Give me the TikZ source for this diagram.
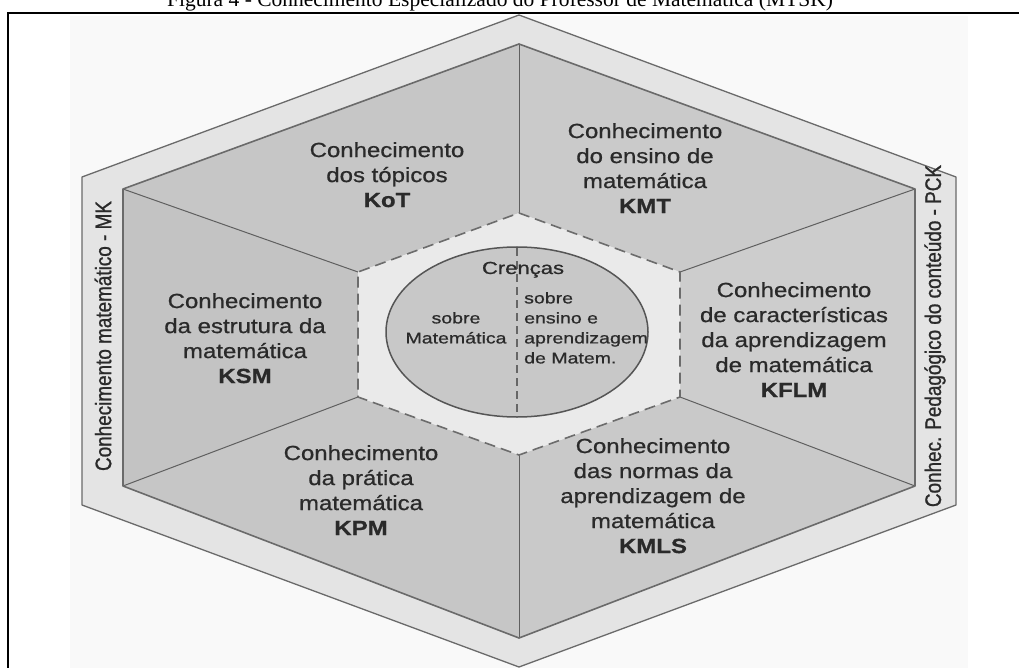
\documentclass[tikz,border=0pt]{standalone}
\usepackage{fontspec}
\setmainfont{Liberation Sans}
\newfontfamily\panelfont{Liberation Sans}[FakeStretch=1.17,FakeBold=0.7]
\newfontfamily\sidefont{Liberation Sans}[FakeStretch=0.84,FakeBold=1.0]
\newfontfamily\ellfont{Liberation Sans}[FakeStretch=1.26,FakeBold=0.8]
\newfontfamily\capfont{Liberation Serif}
\definecolor{bandgray}{HTML}{E4E4E4}
\definecolor{edgegray}{HTML}{6A6A6A}
\definecolor{txtgray}{HTML}{2A2A2A}
\definecolor{pA}{HTML}{C6C6C6}
\definecolor{pB}{HTML}{CACACA}
\definecolor{pC}{HTML}{C3C3C3}
\definecolor{pD}{HTML}{CDCDCD}
\definecolor{pE}{HTML}{C6C6C6}
\definecolor{pF}{HTML}{C9C9C9}
\definecolor{corefill}{HTML}{EAEAEA}
\definecolor{ellfill}{HTML}{C8C8C8}
\definecolor{bgpaper}{HTML}{F9F9F9}
\begin{document}
\begin{tikzpicture}[x=1pt,y=-1pt,
  paneltext/.style={align=center,anchor=north,inner sep=0pt,text=txtgray,
    font=\panelfont\fontsize{20.5}{25}\selectfont},
  sidetext/.style={rotate=90,inner sep=0pt,text=txtgray,
    font=\sidefont\fontsize{22.5}{24}\selectfont},
  elltext/.style={inner sep=0pt,text=txtgray,
    font=\ellfont\fontsize{15.5}{20}\selectfont},
  divider/.style={draw=edgegray!90!black,line width=1pt}]
\useasboundingbox (0,0) rectangle (1019,668);
% paper background of the image
\fill[bgpaper] (70,16) rectangle (968,668);
% caption (cut at the top of the page)
\node[anchor=base,inner sep=0pt,font=\capfont\fontsize{21.5}{24}\selectfont] (cap) at (500,7)
  {Figura 4 - Conhecimento Especializado do Professor de Matemática (MTSK)};
% frame
\draw[black,line width=2pt] (8,690) -- (8,13) -- (1030,13);
% outer hexagon
\coordinate (oT) at (519,15);
\coordinate (oUL) at (82,177);
\coordinate (oLL) at (82,505);
\coordinate (oB) at (519,667);
\coordinate (oLR) at (956,505);
\coordinate (oUR) at (956,177);
% inner hexagon
\coordinate (iT) at (519,44);
\coordinate (iUL) at (123,189);
\coordinate (iLL) at (123,486);
\coordinate (iB) at (519,638);
\coordinate (iLR) at (915,486);
\coordinate (iUR) at (915,189);
% core hexagon
\coordinate (cT) at (519,213);
\coordinate (cUL) at (358,272);
\coordinate (cLL) at (358,397);
\coordinate (cB) at (519,455);
\coordinate (cLR) at (680,397);
\coordinate (cUR) at (680,272);
\fill[bandgray,draw=edgegray,line width=1.3pt,line join=round]
  (oT) -- (oUR) -- (oLR) -- (oB) -- (oLL) -- (oUL) -- cycle;
% panels
\fill[pA] (iT) -- (iUL) -- (cUL) -- (cT) -- cycle;
\fill[pB] (iT) -- (iUR) -- (cUR) -- (cT) -- cycle;
\fill[pC] (iUL) -- (iLL) -- (cLL) -- (cUL) -- cycle;
\fill[pD] (iUR) -- (iLR) -- (cLR) -- (cUR) -- cycle;
\fill[pE] (iLL) -- (iB) -- (cB) -- (cLL) -- cycle;
\fill[pF] (iLR) -- (iB) -- (cB) -- (cLR) -- cycle;
\draw[divider] (iT) -- (cT);
\draw[divider] (iUL) -- (cUL);
\draw[divider] (iLL) -- (cLL);
\draw[divider] (iB) -- (cB);
\draw[divider] (iLR) -- (cLR);
\draw[divider] (iUR) -- (cUR);
\draw[draw=edgegray,line width=1.6pt,line join=round]
  (iT) -- (iUR) -- (iLR) -- (iB) -- (iLL) -- (iUL) -- cycle;
% core
\fill[corefill] (cT) -- (cUR) -- (cLR) -- (cB) -- (cLL) -- (cUL) -- cycle;
\draw[draw=gray!85!black,line width=1.6pt,dash pattern=on 11pt off 6pt]
  (cT) -- (cUR) -- (cLR) -- (cB) -- (cLL) -- (cUL) -- cycle;
% beliefs ellipse
\filldraw[fill=ellfill,draw=edgegray!80!black,line width=1.5pt] (517,332) ellipse [x radius=131pt,y radius=85pt];
\coordinate (eTop) at (517,248);
\coordinate (eBot) at (517,417);
\draw[gray!80!black,line width=1.2pt,dash pattern=on 8pt off 5pt] (eTop) -- (eBot);
\node[anchor=base,inner sep=0pt,text=txtgray,font=\ellfont\fontsize{17.5}{20}\selectfont] (cren) at (523,274) {Crenças};
\node[elltext,align=center,anchor=north] (sobM) at (456,312) {sobre\\Matemática};
\node[elltext,align=left,anchor=north west] (sobE) at (524,292) {sobre\\ensino e\\aprendizagem\\de Matem.};
% panel texts
\node[paneltext] (kot) at (387,142) {Conhecimento\\dos tópicos\\\textbf{KoT}};
\node[paneltext] (kmt) at (645,123) {Conhecimento\\do ensino de\\matemática\\\textbf{KMT}};
\node[paneltext] (ksm) at (245,293) {Conhecimento\\da estrutura da\\matemática\\\textbf{KSM}};
\node[paneltext] (kflm) at (794,282) {Conhecimento\\de características\\da aprendizagem\\de matemática\\\textbf{KFLM}};
\node[paneltext] (kpm) at (361,445) {Conhecimento\\da prática\\matemática\\\textbf{KPM}};
\node[paneltext] (kmls) at (653,438) {Conhecimento\\das normas da\\aprendizagem de\\matemática\\\textbf{KMLS}};
% side labels
\node[sidetext] (mk) at (103,336) {Conhecimento matemático - MK};
\node[sidetext] (pck) at (935,336) {Conhec. Pedagógico do conteúdo - PCK};
\end{tikzpicture}
\end{document}
